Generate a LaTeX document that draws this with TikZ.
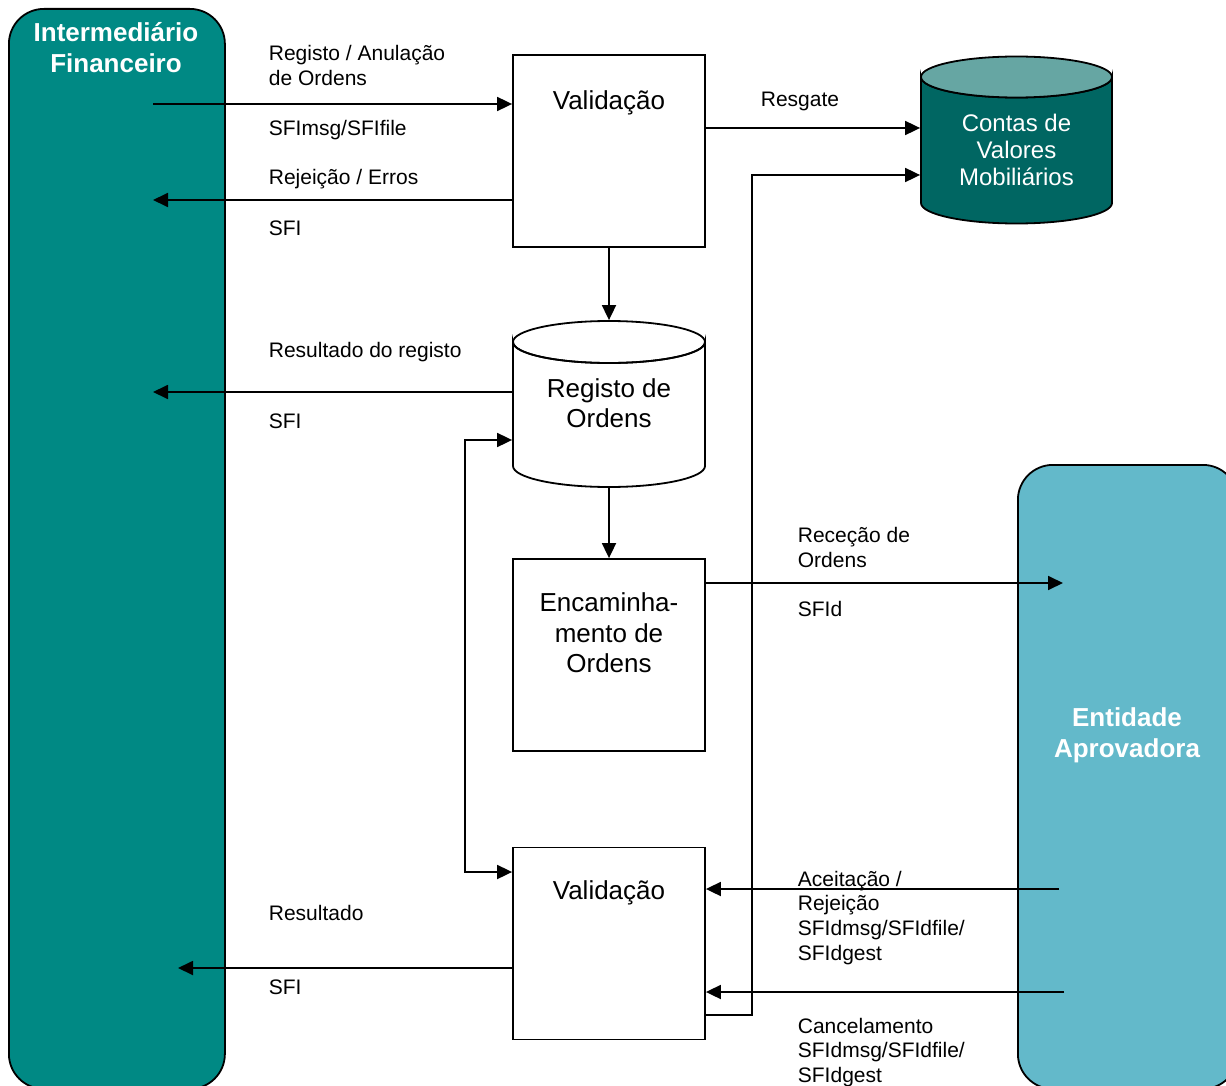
\documentclass[tikz,border=0pt]{standalone}
\usepackage{fontspec}
\setmainfont{Liberation Sans}
\usetikzlibrary{arrows.meta}
\definecolor{laneA}{RGB}{0,137,132}
\definecolor{laneB}{RGB}{99,185,202}
\definecolor{dbbody}{RGB}{0,102,98}
\definecolor{dbtop}{RGB}{102,166,163}
\begin{document}
\begin{tikzpicture}[x=1pt,y=-1pt,
  line width=1.8pt,
  arr/.style={-{Triangle[length=15pt,width=14pt]}, line width=1.8pt},
  darr/.style={{Triangle[length=15pt,width=14pt]}-{Triangle[length=15pt,width=14pt]}, line width=1.8pt},
  box/.style={draw, line width=1.8pt, fill=white, minimum width=192pt, minimum height=192pt, inner sep=0pt},
  ghost/.style={inner sep=0pt, minimum width=192pt},
  lane/.style={draw, line width=1.8pt, rounded corners=35pt, anchor=north west, inner sep=0pt},
  lbl/.style={anchor=base west, inner sep=0pt, font=\fontsize{21}{24}\selectfont},
  boxtxt/.style={anchor=base, inner sep=0pt, font=\fontsize{26}{30}\selectfont},
  dbtxt/.style={anchor=base, inner sep=0pt, text=white, font=\fontsize{24}{27}\selectfont},
  title/.style={anchor=base, inner sep=0pt, text=white, font=\fontsize{26}{30}\selectfont\bfseries},
]
\useasboundingbox (0,0) rectangle (1226,1086);

% swimlanes
\node[lane, fill=laneA, minimum width=216pt, minimum height=1080pt] (inter) at (8,8) {};
\node[lane, fill=laneB, minimum width=220pt, minimum height=624pt] (entid) at (1017,464) {};
\node[title] (tI1) at (116,41.3) {Intermediário};
\node[title] (tI2) at (116,72.3) {Financeiro};
\node[title] (tE1) at (1127,726.3) {Entidade};
\node[title] (tE2) at (1127,757.3) {Aprovadora};

% boxes
\node[box] (val1) at (609,151) {};
\node[box] (enc) at (609,655) {};
\node[box] (val2) at (609,943.5) {};
\node[boxtxt] (tv1) at (609,110) {Validação};
\node[boxtxt] (tv2) at (609,899) {Validação};
\node[boxtxt] (te1) at (609,611) {Encaminha-};
\node[boxtxt] (te2) at (609,642) {mento de};
\node[boxtxt] (te3) at (609,672) {Ordens};

% Registo de Ordens cylinder
\draw[fill=white] (513,342) -- (513,466)
  arc[start angle=180, end angle=0, x radius=96, y radius=21] -- (705,342)
  arc[start angle=0, end angle=180, x radius=96, y radius=21] -- cycle;
\draw (609,342) ellipse[x radius=96, y radius=21];
\node[ghost, minimum height=166pt] (reg) at (609,404) {};
\node[boxtxt] (tr1) at (609,397) {Registo de};
\node[boxtxt] (tr2) at (609,427) {Ordens};

% Contas de Valores Mobiliarios cylinder
\draw[fill=dbbody] (921,77) -- (921,203)
  arc[start angle=180, end angle=0, x radius=95.5, y radius=20.5] -- (1112,77)
  arc[start angle=0, end angle=180, x radius=95.5, y radius=20.5] -- cycle;
\draw[fill=dbtop] (1016.5,77) ellipse[x radius=95.5, y radius=20.5];
\node[ghost, minimum width=191pt, minimum height=167pt] (contas) at (1016.5,139.5) {};
\node[dbtxt] (tc1) at (1016.5,131.6) {Contas de};
\node[dbtxt] (tc2) at (1016.5,158.6) {Valores};
\node[dbtxt] (tc3) at (1016.5,185.6) {Mobiliários};

% connector end points
\coordinate (p1) at (153,104);
\coordinate (p2) at (153,200);
\coordinate (p4) at (153,392);
\coordinate (p5a) at (465,440);
\coordinate (p5b) at (465,872);
\coordinate (p7) at (1063,583);
\coordinate (p8) at (705,128);
\coordinate (p9a) at (752,1015);
\coordinate (p9b) at (752,175);
\coordinate (p10) at (1059,889);
\coordinate (p11) at (1064,992);
\coordinate (p12) at (178,968);

% connectors
\draw[arr] (p1) -- (p1 -| val1.west);
\draw[arr] (p2 -| val1.west) -- (p2);
\draw[arr] (val1.south) -- (reg.north);
\draw[arr] (p4 -| reg.west) -- (p4);
\draw[darr] (p5a -| reg.west) -- (p5a) -- (p5b) -- (p5b -| val2.west);
\draw[arr] (reg.south) -- (enc.north);
\draw[arr] (p7 -| enc.east) -- (p7);
\draw[arr] (p8) -- (p8 -| contas.west);
\draw[arr] (p9a -| val2.east) -- (p9a) -- (p9b) -- (p9b -| contas.west);
\draw[arr] (p10) -- (p10 -| val2.east);
\draw[arr] (p11) -- (p11 -| val2.east);
\draw[arr] (p12 -| val2.west) -- (p12);

% labels
\node[lbl] (l1a) at (268,60.5) {Registo / Anulação};
\node[lbl] (l1b) at (268,85.5) {de Ordens};
\node[lbl] (l1c) at (268,135.5) {SFImsg/SFIfile};
\node[lbl] (l2a) at (268,184.5) {Rejeição / Erros};
\node[lbl] (l2b) at (268,235.5) {SFI};
\node[lbl] (l4a) at (268,357.5) {Resultado do registo};
\node[lbl] (l4b) at (268,428.5) {SFI};
\node[lbl] (l8) at (760,106.5) {Resgate};
\node[lbl] (l7a) at (797,542.5) {Receção de};
\node[lbl] (l7b) at (797,567.5) {Ordens};
\node[lbl] (l7c) at (797,616.5) {SFId};
\node[lbl] (l10a) at (797,886.5) {Aceitação /};
\node[lbl] (l10b) at (797,910.5) {Rejeição};
\node[lbl] (l10c) at (797,935.5) {SFIdmsg/SFIdfile/};
\node[lbl] (l10d) at (797,960.5) {SFIdgest};
\node[lbl] (l11a) at (797,1033.5) {Cancelamento};
\node[lbl] (l11b) at (797,1057.5) {SFIdmsg/SFIdfile/};
\node[lbl] (l11c) at (797,1082.5) {SFIdgest};
\node[lbl] (l12a) at (268,920.5) {Resultado};
\node[lbl] (l12b) at (268,994.5) {SFI};
\end{tikzpicture}
\end{document}
